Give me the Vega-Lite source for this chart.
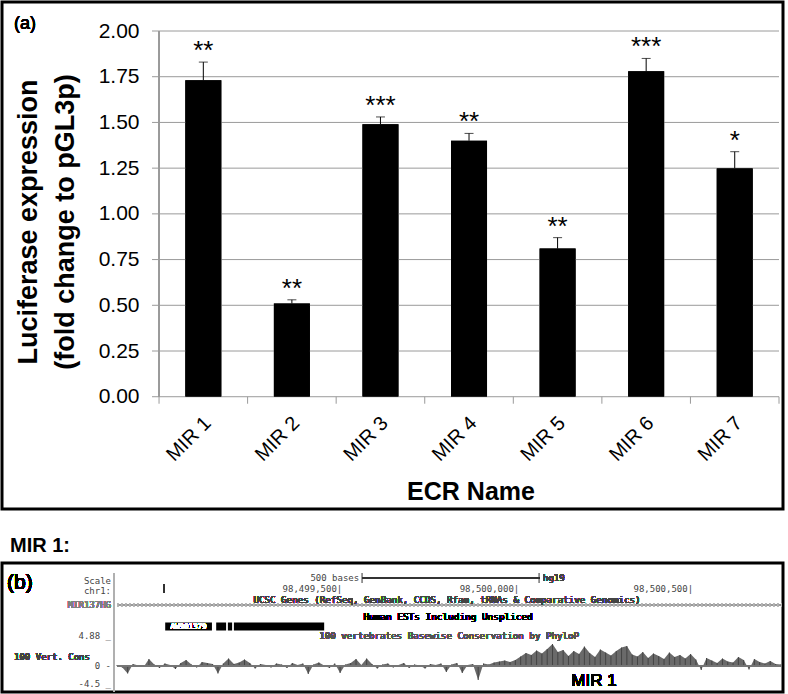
{
  "$schema": "https://vega.github.io/schema/vega-lite/v6.json",
  "padding": 0,
  "background": "white",
  "spacing": 23,
  "config": {"font": "Liberation Sans", "view": {"stroke": null}},
  "vconcat": [
    {
      "width": 781,
      "height": 507,
      "view": {"stroke": "black", "strokeWidth": 3},
      "data": {"values": [
        {"ecr": "MIR 1", "i": 1, "mean": 1.73, "upper": 1.83, "sig": "**"},
        {"ecr": "MIR 2", "i": 2, "mean": 0.51, "upper": 0.53, "sig": "**"},
        {"ecr": "MIR 3", "i": 3, "mean": 1.49, "upper": 1.53, "sig": "***"},
        {"ecr": "MIR 4", "i": 4, "mean": 1.40, "upper": 1.44, "sig": "**"},
        {"ecr": "MIR 5", "i": 5, "mean": 0.81, "upper": 0.87, "sig": "**"},
        {"ecr": "MIR 6", "i": 6, "mean": 1.78, "upper": 1.85, "sig": "***"},
        {"ecr": "MIR 7", "i": 7, "mean": 1.25, "upper": 1.34, "sig": "*"}
      ]},
      "layer": [
        {
          "mark": {"type": "bar", "color": "black", "width": 36, "orient": "vertical"},
          "encoding": {
            "x": {"field": "i", "type": "quantitative", "scale": {"domain": [-1.273, 7.545], "zero": false, "nice": false, "padding": 0},
              "axis": {"values": [1, 2, 3, 4, 5, 6, 7], "labelExpr": "'MIR ' + datum.value", "labelAngle": -45, "labelAlign": "right", "labelBaseline": "middle", "labelFontSize": 20, "labelColor": "black", "labelOffset": 4, "labelPadding": 23, "ticks": false, "tickSize": 0, "domain": false, "grid": false, "offset": -112.3, "labelFlush": false, "labelOverlap": false, "zindex": 3,
                "title": "ECR Name", "titleFontSize": 25, "titleFontWeight": "bold", "titleColor": "black", "titleX": 468.5, "titleY": 103, "titleBaseline": "alphabetic", "titleAlign": "center"}},
            "y": {"field": "mean", "type": "quantitative", "scale": {"domain": [-0.614, 2.1586], "zero": false, "nice": false},
              "axis": {"values": [0, 0.25, 0.5, 0.75, 1, 1.25, 1.5, 1.75, 2], "format": ".2f", "labelFontSize": 21, "labelColor": "black", "labelPadding": 20, "ticks": false, "tickSize": 0, "domain": false, "grid": false, "offset": -157, "labelFlush": false, "labelOverlap": false, "zindex": 3,
                "title": ["Luciferase expression", "(fold change to pGL3p)"], "titleFontSize": 27, "titleFontWeight": "bold", "titleColor": "black", "titlePadding": 19, "titleY": 219.5, "titleLineHeight": 37}},
            "y2": {"datum": 0}
          }
        },
        {
          "data": {"values": [{"g": 0}, {"g": 0.25}, {"g": 0.5}, {"g": 0.75}, {"g": 1}, {"g": 1.25}, {"g": 1.5}, {"g": 1.75}, {"g": 2}]},
          "mark": {"type": "rule", "color": "#9a9a9a", "strokeWidth": 1},
          "encoding": {
            "x": {"datum": 0.4208, "type": "quantitative", "scale": {"domain": [-1.273, 7.545], "zero": false, "nice": false, "padding": 0}},
            "x2": {"datum": 7.5},
            "y": {"field": "g", "type": "quantitative", "scale": {"domain": [-0.614, 2.1586], "zero": false, "nice": false}}
          }
        },
        {
          "mark": {"type": "rule", "color": "#9a9a9a", "strokeWidth": 1},
          "encoding": {
            "x": {"datum": 0.5, "type": "quantitative", "scale": {"domain": [-1.273, 7.545], "zero": false, "nice": false, "padding": 0}},
            "y": {"datum": 0, "type": "quantitative", "scale": {"domain": [-0.614, 2.1586], "zero": false, "nice": false}},
            "y2": {"datum": 2}
          }
        },
        {
          "data": {"values": [{"b": 0.5}, {"b": 1.5}, {"b": 2.5}, {"b": 3.5}, {"b": 4.5}, {"b": 5.5}, {"b": 6.5}, {"b": 7.5}]},
          "mark": {"type": "rule", "color": "#9a9a9a", "strokeWidth": 1},
          "encoding": {
            "x": {"field": "b", "type": "quantitative", "scale": {"domain": [-1.273, 7.545], "zero": false, "nice": false, "padding": 0}},
            "y": {"datum": 0, "type": "quantitative", "scale": {"domain": [-0.614, 2.1586], "zero": false, "nice": false}},
            "y2": {"datum": -0.0383}
          }
        },
        {
          "mark": {"type": "bar", "color": "black", "width": 36, "orient": "vertical"},
          "encoding": {
            "x": {"field": "i", "type": "quantitative", "scale": {"domain": [-1.273, 7.545], "zero": false, "nice": false, "padding": 0}},
            "y": {"field": "mean", "type": "quantitative", "scale": {"domain": [-0.614, 2.1586], "zero": false, "nice": false}},
            "y2": {"datum": 0}
          }
        },
        {
          "mark": {"type": "rule", "color": "black", "strokeWidth": 1},
          "encoding": {
            "x": {"field": "i", "type": "quantitative", "scale": {"domain": [-1.273, 7.545], "zero": false, "nice": false, "padding": 0}},
            "y": {"field": "mean", "type": "quantitative", "scale": {"domain": [-0.614, 2.1586], "zero": false, "nice": false}},
            "y2": {"field": "upper"}
          }
        },
        {
          "mark": {"type": "tick", "color": "black", "orient": "horizontal", "size": 9, "thickness": 1},
          "encoding": {
            "x": {"field": "i", "type": "quantitative", "scale": {"domain": [-1.273, 7.545], "zero": false, "nice": false, "padding": 0}},
            "y": {"field": "upper", "type": "quantitative", "scale": {"domain": [-0.614, 2.1586], "zero": false, "nice": false}}
          }
        },
        {
          "mark": {"type": "text", "fontSize": 26, "baseline": "alphabetic", "align": "center", "dy": -3, "color": "black"},
          "encoding": {
            "x": {"field": "i", "type": "quantitative", "scale": {"domain": [-1.273, 7.545], "zero": false, "nice": false, "padding": 0}},
            "y": {"field": "upper", "type": "quantitative", "scale": {"domain": [-0.614, 2.1586], "zero": false, "nice": false}},
            "text": {"field": "sig"}
          }
        },
        {
          "mark": {"type": "text", "text": "(a)", "fontSize": 18, "align": "left", "baseline": "middle", "color": "black"},
          "encoding": {
            "x": {"datum": -1.137, "type": "quantitative", "scale": {"domain": [-1.273, 7.545], "zero": false, "nice": false, "padding": 0}},
            "y": {"datum": 2.038, "type": "quantitative", "scale": {"domain": [-0.614, 2.1586], "zero": false, "nice": false}}
          }
        }
      ]
    },
    {
      "width": 781,
      "height": 129,
      "view": {"stroke": "black", "strokeWidth": 3},
      "title": {"text": "MIR 1:", "anchor": "start", "fontSize": 20, "fontWeight": "bold", "font": "Liberation Sans", "color": "black", "dx": 8, "offset": -9, "baseline": "alphabetic"},
      "data": {"values": [
        {"pos": 98498870, "score": 0.2}, {"pos": 98498885, "score": -0.3}, {"pos": 98498900, "score": -1.5}, {"pos": 98498915, "score": 0.4},
        {"pos": 98498930, "score": 0.1}, {"pos": 98498945, "score": -0.2}, {"pos": 98498960, "score": 1.4}, {"pos": 98498975, "score": 0.3},
        {"pos": 98498990, "score": -0.4}, {"pos": 98499005, "score": 0.5}, {"pos": 98499020, "score": 0.2}, {"pos": 98499035, "score": -0.6},
        {"pos": 98499050, "score": 0.6}, {"pos": 98499065, "score": 1.2}, {"pos": 98499080, "score": 0.3}, {"pos": 98499095, "score": -0.3},
        {"pos": 98499110, "score": 0.8}, {"pos": 98499125, "score": 0.6}, {"pos": 98499140, "score": 0.4}, {"pos": 98499155, "score": -1.5},
        {"pos": 98499170, "score": 0.5}, {"pos": 98499185, "score": 1.5}, {"pos": 98499200, "score": 0.4}, {"pos": 98499215, "score": 0.7},
        {"pos": 98499230, "score": 1.3}, {"pos": 98499245, "score": 0.6}, {"pos": 98499260, "score": -0.5}, {"pos": 98499275, "score": 0.4},
        {"pos": 98499290, "score": 0.2}, {"pos": 98499305, "score": -0.3}, {"pos": 98499320, "score": 0.5}, {"pos": 98499335, "score": 0.3},
        {"pos": 98499350, "score": -0.4}, {"pos": 98499365, "score": 0.6}, {"pos": 98499380, "score": 0.2}, {"pos": 98499395, "score": 0.5},
        {"pos": 98499410, "score": -1.6}, {"pos": 98499425, "score": 0.3}, {"pos": 98499440, "score": 0.7}, {"pos": 98499455, "score": 0.1},
        {"pos": 98499470, "score": -0.4}, {"pos": 98499485, "score": 0.5}, {"pos": 98499500, "score": -1.4}, {"pos": 98499515, "score": 0.3},
        {"pos": 98499530, "score": 0.6}, {"pos": 98499545, "score": 1.4}, {"pos": 98499560, "score": 0.2}, {"pos": 98499575, "score": 1.5},
        {"pos": 98499590, "score": 0.4}, {"pos": 98499605, "score": -0.5}, {"pos": 98499620, "score": 0.3}, {"pos": 98499635, "score": 0.5},
        {"pos": 98499650, "score": -0.3}, {"pos": 98499665, "score": 0.2}, {"pos": 98499680, "score": 0.6}, {"pos": 98499695, "score": -0.4},
        {"pos": 98499710, "score": 0.3}, {"pos": 98499725, "score": 0.1}, {"pos": 98499740, "score": -0.5}, {"pos": 98499755, "score": 0.4},
        {"pos": 98499770, "score": 0.2}, {"pos": 98499785, "score": 0.5}, {"pos": 98499800, "score": -1.2}, {"pos": 98499815, "score": 0.3},
        {"pos": 98499830, "score": 0.6}, {"pos": 98499845, "score": -1.4}, {"pos": 98499860, "score": 0.2}, {"pos": 98499875, "score": 0.4},
        {"pos": 98499890, "score": -2.8}, {"pos": 98499905, "score": 0.5}, {"pos": 98499920, "score": 0.3}, {"pos": 98499935, "score": 0.7},
        {"pos": 98499950, "score": 0.9}, {"pos": 98499965, "score": 1.1}, {"pos": 98499980, "score": 0.8}, {"pos": 98499995, "score": 1.2},
        {"pos": 98500010, "score": 1.9}, {"pos": 98500025, "score": 2.6}, {"pos": 98500040, "score": 2.2}, {"pos": 98500055, "score": 3.1},
        {"pos": 98500070, "score": 2.5}, {"pos": 98500085, "score": 3.4}, {"pos": 98500100, "score": 4.4}, {"pos": 98500115, "score": 2.8},
        {"pos": 98500130, "score": 3.2}, {"pos": 98500145, "score": 2.0}, {"pos": 98500160, "score": 3.0}, {"pos": 98500175, "score": 2.4},
        {"pos": 98500190, "score": 3.9}, {"pos": 98500205, "score": 2.6}, {"pos": 98500220, "score": 1.8}, {"pos": 98500235, "score": 3.3},
        {"pos": 98500250, "score": 2.7}, {"pos": 98500265, "score": 2.1}, {"pos": 98500280, "score": 3.0}, {"pos": 98500295, "score": 3.7},
        {"pos": 98500310, "score": 4.0}, {"pos": 98500325, "score": 2.3}, {"pos": 98500340, "score": 1.9}, {"pos": 98500355, "score": 2.8},
        {"pos": 98500370, "score": 1.6}, {"pos": 98500385, "score": 2.5}, {"pos": 98500400, "score": 2.0}, {"pos": 98500415, "score": 1.4},
        {"pos": 98500430, "score": 2.7}, {"pos": 98500445, "score": 1.8}, {"pos": 98500460, "score": 2.2}, {"pos": 98500475, "score": 1.5},
        {"pos": 98500490, "score": 2.4}, {"pos": 98500505, "score": 1.3}, {"pos": 98500520, "score": -0.8}, {"pos": 98500535, "score": 1.6},
        {"pos": 98500550, "score": 1.1}, {"pos": 98500565, "score": 0.6}, {"pos": 98500580, "score": 1.5}, {"pos": 98500595, "score": 0.9},
        {"pos": 98500610, "score": 0.7}, {"pos": 98500625, "score": 1.8}, {"pos": 98500640, "score": 1.2}, {"pos": 98500655, "score": -0.7},
        {"pos": 98500670, "score": 1.4}, {"pos": 98500685, "score": 0.8}, {"pos": 98500700, "score": 0.5}, {"pos": 98500715, "score": 1.0},
        {"pos": 98500730, "score": 0.4}, {"pos": 98500745, "score": 0.3}
      ]},
      "layer": [
        {
          "mark": {"type": "rule", "color": "#b0b0b0", "strokeWidth": 1},
          "encoding": {
            "x": {"datum": 98498862, "type": "quantitative", "scale": {"domain": [98498545, 98500751], "zero": false, "nice": false, "padding": 0}, "axis": null},
            "y": {"datum": -5.2, "type": "quantitative", "scale": {"domain": [-5.2, 20.6], "zero": false, "nice": false}, "axis": null},
            "y2": {"datum": 18.6}
          }
        },
        {
          "mark": {"type": "area", "color": "#6a6a6a", "interpolate": "linear"},
          "encoding": {
            "x": {"field": "pos", "type": "quantitative", "scale": {"domain": [98498545, 98500751], "zero": false, "nice": false, "padding": 0}, "axis": null},
            "y": {"field": "score", "type": "quantitative", "scale": {"domain": [-5.2, 20.6], "zero": false, "nice": false}, "axis": null},
            "y2": {"datum": 0}
          }
        },
        {
          "mark": {"type": "rule", "color": "#444444", "strokeWidth": 1},
          "encoding": {
            "x": {"field": "pos", "type": "quantitative", "scale": {"domain": [98498545, 98500751], "zero": false, "nice": false, "padding": 0}, "axis": null},
            "y": {"field": "score", "type": "quantitative", "scale": {"domain": [-5.2, 20.6], "zero": false, "nice": false}, "axis": null},
            "y2": {"datum": 0}
          }
        },
        {
          "mark": {"type": "rule", "color": "#777777", "strokeWidth": 1},
          "encoding": {
            "x": {"datum": 98498870, "type": "quantitative", "scale": {"domain": [98498545, 98500751], "zero": false, "nice": false, "padding": 0}, "axis": null},
            "x2": {"datum": 98500748},
            "y": {"datum": 0, "type": "quantitative", "scale": {"domain": [-5.2, 20.6], "zero": false, "nice": false}, "axis": null}
          }
        },
        {
          "mark": {"type": "rule", "color": "#999999", "strokeWidth": 1},
          "encoding": {
            "x": {"datum": 98498870, "type": "quantitative", "scale": {"domain": [98498545, 98500751], "zero": false, "nice": false, "padding": 0}, "axis": null},
            "x2": {"datum": 98500748},
            "y": {"datum": 12.2, "type": "quantitative", "scale": {"domain": [-5.2, 20.6], "zero": false, "nice": false}, "axis": null}
          }
        },
        {
          "mark": {"type": "rule", "color": "#b5b5b5", "strokeWidth": 4, "strokeDash": [1, 3]},
          "encoding": {
            "x": {"datum": 98498870, "type": "quantitative", "scale": {"domain": [98498545, 98500751], "zero": false, "nice": false, "padding": 0}, "axis": null},
            "x2": {"datum": 98500748},
            "y": {"datum": 12.2, "type": "quantitative", "scale": {"domain": [-5.2, 20.6], "zero": false, "nice": false}, "axis": null}
          }
        },
        {
          "data": {"values": [
            {"start": 98499006, "end": 98499138},
            {"start": 98499150, "end": 98499178},
            {"start": 98499183, "end": 98499195},
            {"start": 98499200, "end": 98499455}
          ]},
          "mark": {"type": "rect", "color": "black"},
          "encoding": {
            "x": {"field": "start", "type": "quantitative", "scale": {"domain": [98498545, 98500751], "zero": false, "nice": false, "padding": 0}, "axis": null},
            "x2": {"field": "end"},
            "y": {"datum": 8.7, "type": "quantitative", "scale": {"domain": [-5.2, 20.6], "zero": false, "nice": false}, "axis": null},
            "y2": {"datum": 7.1}
          }
        },
        {
          "mark": {"type": "text", "text": "AW901379", "font": "DejaVu Sans Mono", "fontSize": 7.5, "color": "white", "align": "center", "baseline": "middle"},
          "encoding": {
            "x": {"datum": 98499072, "type": "quantitative", "scale": {"domain": [98498545, 98500751], "zero": false, "nice": false, "padding": 0}, "axis": null},
            "y": {"datum": 7.9, "type": "quantitative", "scale": {"domain": [-5.2, 20.6], "zero": false, "nice": false}, "axis": null}
          }
        },
        {
          "mark": {"type": "rule", "color": "#333333", "strokeWidth": 1},
          "encoding": {
            "x": {"datum": 98499562, "type": "quantitative", "scale": {"domain": [98498545, 98500751], "zero": false, "nice": false, "padding": 0}, "axis": null},
            "x2": {"datum": 98500062},
            "y": {"datum": 17.6, "type": "quantitative", "scale": {"domain": [-5.2, 20.6], "zero": false, "nice": false}, "axis": null}
          }
        },
        {
          "data": {"values": [{"p": 98499562}, {"p": 98500062}]},
          "mark": {"type": "rule", "color": "#333333", "strokeWidth": 1},
          "encoding": {
            "x": {"field": "p", "type": "quantitative", "scale": {"domain": [98498545, 98500751], "zero": false, "nice": false, "padding": 0}, "axis": null},
            "y": {"datum": 16.6, "type": "quantitative", "scale": {"domain": [-5.2, 20.6], "zero": false, "nice": false}, "axis": null},
            "y2": {"datum": 18.6}
          }
        },
        {
          "mark": {"type": "rule", "color": "#333333", "strokeWidth": 1},
          "encoding": {
            "x": {"datum": 98499003, "type": "quantitative", "scale": {"domain": [98498545, 98500751], "zero": false, "nice": false, "padding": 0}, "axis": null},
            "y": {"datum": 14.6, "type": "quantitative", "scale": {"domain": [-5.2, 20.6], "zero": false, "nice": false}, "axis": null},
            "y2": {"datum": 16.4}
          }
        },
        {
          "data": {"values": [
            {"t": "Scale", "x": 98498853, "y": 17.0},
            {"t": "chr1:", "x": 98498853, "y": 15.0},
            {"t": "4.88 _", "x": 98498853, "y": 6.0},
            {"t": "0 -", "x": 98498853, "y": 0},
            {"t": "-4.5 _", "x": 98498853, "y": -3.6},
            {"t": "500 bases", "x": 98499554, "y": 17.6},
            {"t": "98,499,500|", "x": 98499506, "y": 15.5},
            {"t": "98,500,000|", "x": 98500006, "y": 15.5},
            {"t": "98,500,500|", "x": 98500497, "y": 15.5}
          ]},
          "mark": {"type": "text", "font": "DejaVu Sans Mono", "fontSize": 9, "color": "#444444", "align": "right", "baseline": "middle"},
          "encoding": {
            "x": {"field": "x", "type": "quantitative", "scale": {"domain": [98498545, 98500751], "zero": false, "nice": false, "padding": 0}, "axis": null},
            "y": {"field": "y", "type": "quantitative", "scale": {"domain": [-5.2, 20.6], "zero": false, "nice": false}, "axis": null},
            "text": {"field": "t"}
          }
        },
        {
          "mark": {"type": "text", "text": "MIR137HG", "font": "DejaVu Sans Mono", "fontSize": 9, "color": "#808080", "align": "right", "baseline": "middle"},
          "encoding": {
            "x": {"datum": 98498853, "type": "quantitative", "scale": {"domain": [98498545, 98500751], "zero": false, "nice": false, "padding": 0}, "axis": null},
            "y": {"datum": 12.3, "type": "quantitative", "scale": {"domain": [-5.2, 20.6], "zero": false, "nice": false}, "axis": null}
          }
        },
        {
          "mark": {"type": "text", "text": "100 Vert. Cons", "font": "DejaVu Sans Mono", "fontSize": 9, "color": "#444444", "align": "left", "baseline": "middle"},
          "encoding": {
            "x": {"datum": 98498579, "type": "quantitative", "scale": {"domain": [98498545, 98500751], "zero": false, "nice": false, "padding": 0}, "axis": null},
            "y": {"datum": 1.9, "type": "quantitative", "scale": {"domain": [-5.2, 20.6], "zero": false, "nice": false}, "axis": null}
          }
        },
        {
          "mark": {"type": "text", "text": "hg19", "font": "DejaVu Sans Mono", "fontSize": 9, "color": "#444444", "align": "left", "baseline": "middle"},
          "encoding": {
            "x": {"datum": 98500073, "type": "quantitative", "scale": {"domain": [98498545, 98500751], "zero": false, "nice": false, "padding": 0}, "axis": null},
            "y": {"datum": 17.6, "type": "quantitative", "scale": {"domain": [-5.2, 20.6], "zero": false, "nice": false}, "axis": null}
          }
        },
        {
          "mark": {"type": "text", "text": "UCSC Genes (RefSeq, GenBank, CCDS, Rfam, tRNAs & Comparative Genomics)", "font": "DejaVu Sans Mono", "fontSize": 9.2, "color": "#444444", "align": "center", "baseline": "middle"},
          "encoding": {
            "x": {"datum": 98499802, "type": "quantitative", "scale": {"domain": [98498545, 98500751], "zero": false, "nice": false, "padding": 0}, "axis": null},
            "y": {"datum": 13.3, "type": "quantitative", "scale": {"domain": [-5.2, 20.6], "zero": false, "nice": false}, "axis": null}
          }
        },
        {
          "mark": {"type": "text", "text": "Human ESTs Including Unspliced", "font": "DejaVu Sans Mono", "fontSize": 9.4, "color": "black", "align": "center", "baseline": "middle"},
          "encoding": {
            "x": {"datum": 98499805, "type": "quantitative", "scale": {"domain": [98498545, 98500751], "zero": false, "nice": false, "padding": 0}, "axis": null},
            "y": {"datum": 9.8, "type": "quantitative", "scale": {"domain": [-5.2, 20.6], "zero": false, "nice": false}, "axis": null}
          }
        },
        {
          "mark": {"type": "text", "text": "100 vertebrates Basewise Conservation by PhyloP", "font": "DejaVu Sans Mono", "fontSize": 9.2, "color": "#555555", "align": "center", "baseline": "middle"},
          "encoding": {
            "x": {"datum": 98499808, "type": "quantitative", "scale": {"domain": [98498545, 98500751], "zero": false, "nice": false, "padding": 0}, "axis": null},
            "y": {"datum": 6.1, "type": "quantitative", "scale": {"domain": [-5.2, 20.6], "zero": false, "nice": false}, "axis": null}
          }
        },
        {
          "mark": {"type": "text", "text": "(b)", "fontSize": 21, "color": "black", "align": "left", "baseline": "middle"},
          "encoding": {
            "x": {"datum": 98498559, "type": "quantitative", "scale": {"domain": [98498545, 98500751], "zero": false, "nice": false, "padding": 0}, "axis": null},
            "y": {"datum": 16.7, "type": "quantitative", "scale": {"domain": [-5.2, 20.6], "zero": false, "nice": false}, "axis": null}
          }
        },
        {
          "mark": {"type": "text", "text": "MIR 1", "fontSize": 17, "color": "black", "align": "center", "baseline": "middle"},
          "encoding": {
            "x": {"datum": 98500217, "type": "quantitative", "scale": {"domain": [98498545, 98500751], "zero": false, "nice": false, "padding": 0}, "axis": null},
            "y": {"datum": -3, "type": "quantitative", "scale": {"domain": [-5.2, 20.6], "zero": false, "nice": false}, "axis": null}
          }
        }
      ]
    }
  ]
}
